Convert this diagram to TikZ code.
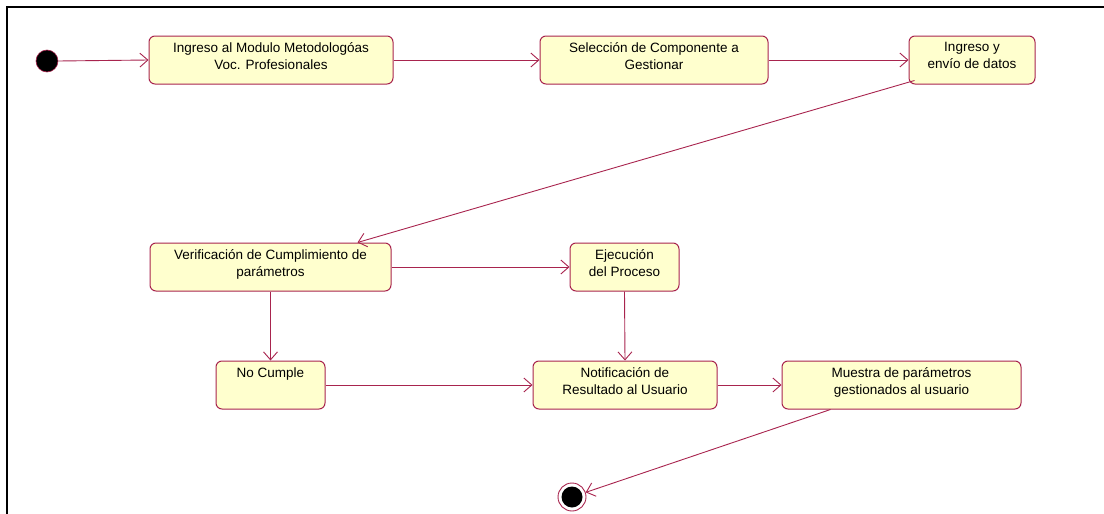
\documentclass[tikz,border=0pt]{standalone}
\usepackage{fontspec}
\setmainfont{Liberation Sans}
\usetikzlibrary{arrows.meta,calc}
\definecolor{umlred}{RGB}{168,36,78}
\definecolor{umlfill}{RGB}{255,255,206}
\tikzset{
  statebox/.style={draw=umlred, fill=umlfill, line width=1pt, rounded corners=6pt,
    inner xsep=0pt, inner ysep=4pt, anchor=center},
  trans/.style={draw=umlred, line width=0.9pt, -{Straight Barb[length=8pt,width=14pt,line width=0.9pt]}},
  initstate/.style={circle, fill=black, draw=umlred, line width=0.6pt, minimum size=22pt, inner sep=0pt},
  finalstate/.style={circle, draw=umlred, line width=0.9pt, fill=white, minimum size=28pt, inner sep=0pt},
}
\newcommand{\bx}[3]{\parbox[c][#2][t]{#1}{\centering\fontsize{13.5}{17}\selectfont\vspace*{2.5pt}#3}}
\begin{document}
\begin{tikzpicture}[x=1pt,y=-1pt]
\useasboundingbox (0,0) rectangle (1104,514);
\draw[line width=2.5pt, black] (7,514) -- (7,7) -- (1104,7);
\node[initstate] (init) at (47,61) {};
\node[statebox] (b1) at (271,60) {\bx{244pt}{40pt}{Ingreso al Modulo Metodologóas\\Voc. Profesionales}};
\node[statebox] (b2) at (654,60) {\bx{228pt}{40pt}{Selección de Componente a\\Gestionar}};
\node[statebox] (b3) at (972,60) {\bx{126pt}{40pt}{Ingreso y\\envío de datos}};
\node[statebox] (b4) at (270.5,267) {\bx{241pt}{40pt}{Verificación de Cumplimiento de\\parámetros}};
\node[statebox] (b5) at (624.5,267) {\bx{109pt}{40pt}{Ejecución\\del Proceso}};
\node[statebox] (b6) at (270.5,385) {\bx{109pt}{40pt}{No Cumple}};
\node[statebox] (b7) at (625,385) {\bx{184pt}{40pt}{Notificación de\\Resultado al Usuario}};
\node[statebox] (b8) at (901.5,385) {\bx{239pt}{40pt}{Muestra de parámetros\\gestionados al usuario}};
\node[finalstate] (fin) at (572,497) {};
\fill[black] (fin.center) circle (10.5pt);
\draw[trans] (init.east) -- (b1.west);
\draw[trans] (b1.east) -- (b2.west);
\draw[trans] (b2.east) -- (b3.west);
\draw[trans] ($(b3.south west)+(6,-4)$) -- ($(b4.north)+(87,0)$);
\draw[trans] (b4.east) -- (b5.west);
\draw[trans] (b4.south) -- (b6.north);
\draw[trans] (b5.south) -- (b7.north);
\draw[trans] (b6.east) -- (b7.west);
\draw[trans] (b7.east) -- (b8.west);
\draw[trans] ($(b8.south west)+(49,0)$) -- (fin);
\end{tikzpicture}
\end{document}
